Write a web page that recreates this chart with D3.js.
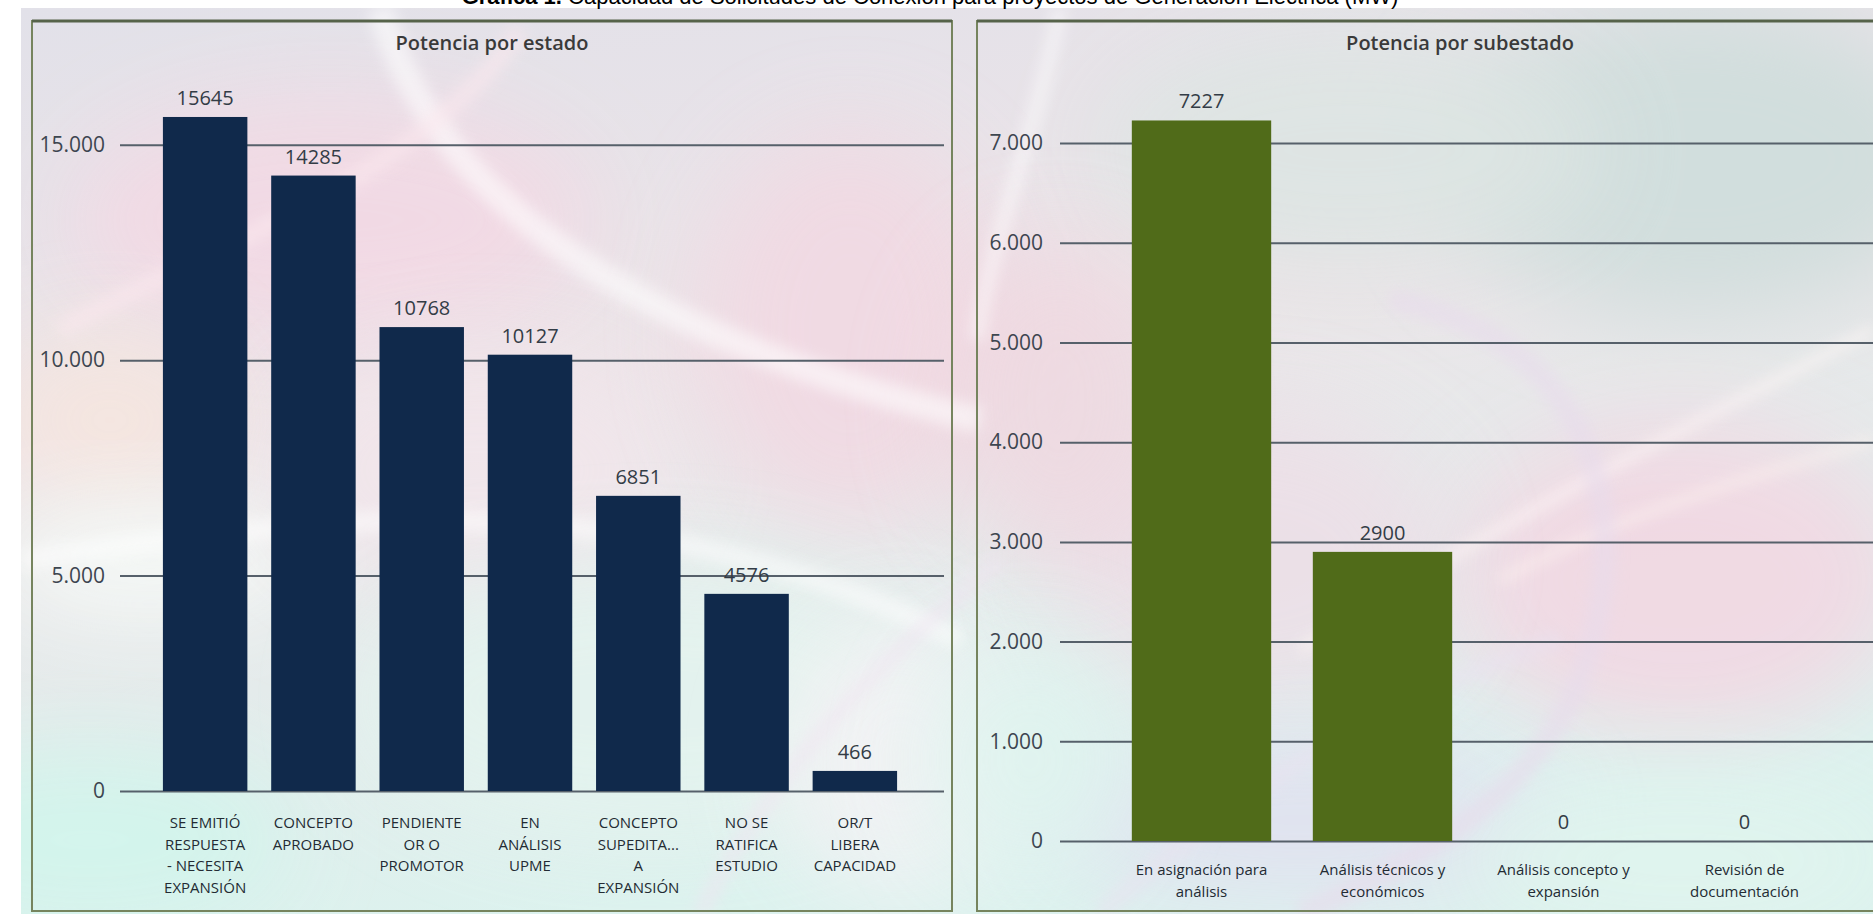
<!DOCTYPE html>
<html>
<head>
<meta charset="utf-8">
<script src="https://cdn.jsdelivr.net/npm/d3@7/dist/d3.min.js"></script>
<style>
  body { margin: 0; background: #fff; }
  svg { display: block; }
</style>
</head>
<body>
<svg id="chart" width="1873" height="914"></svg>
<script>
// data
var estados = [
  'SE EMITIÓ\nRESPUESTA\n- NECESITA\nEXPANSIÓN',
  'CONCEPTO\nAPROBADO',
  'PENDIENTE\nOR O\nPROMOTOR',
  'EN\nANÁLISIS\nUPME',
  'CONCEPTO\nSUPEDITA...\nA\nEXPANSIÓN',
  'NO SE\nRATIFICA\nESTUDIO',
  'OR/T\nLIBERA\nCAPACIDAD'
]
var estadoValues = [15645, 14285, 10768, 10127, 6851, 4576, 466]
var estadoTicks = [0, 5000, 10000, 15000]

var subestados = [
  'En asignación para\nanálisis',
  'Análisis técnicos y\neconómicos',
  'Análisis concepto y\nexpansión',
  'Revisión de\ndocumentación'
]
var subestadoValues = [7227, 2900, 0, 0]
var subestadoTicks = [0, 1000, 2000, 3000, 4000, 5000, 6000, 7000]

var titulo = 'Capacidad de Solicitudes de Conexión para proyectos de Generación Eléctrica (MW)'

var locale = d3.formatLocale({decimal: ',', thousands: '.', grouping: [3], currency: ['$', '']})
var fmt = locale.format(',d')

var svg = d3.select('#chart')

drawBackground()
drawTitle()

drawPanel({
  box: [32, 21, 952, 911],
  title: 'Potencia por estado',
  categories: estados,
  values: estadoValues,
  ticks: estadoTicks,
  color: '#10294b',
  x: [151, 909],
  pad: 0.22,
  y: [0, 17000, 791, 58.6],
  grid: [120, 944],
  labelPad: 15,
  labelY: 828,
  lineH: 21.5
})

drawPanel({
  box: [977, 21, 1900, 911],
  title: 'Potencia por subestado',
  categories: subestados,
  values: subestadoValues,
  ticks: subestadoTicks,
  color: '#506b19',
  x: [1111, 1835],
  pad: 0.23,
  y: [0, 7500, 841, 93.25],
  grid: [1060, 1873],
  labelPad: 17,
  labelY: 875,
  lineH: 21.5
})

function drawBackground () {
  var defs = svg.append('defs')
  var base = defs.append('linearGradient')
      .attr('id', 'bg-base')
      .attr('x1', 0).attr('y1', 0).attr('x2', 0.3).attr('y2', 1)
  base.append('stop').attr('offset', '0%').attr('stop-color', '#e2e1e9')
  base.append('stop').attr('offset', '45%').attr('stop-color', '#ece4e8')
  base.append('stop').attr('offset', '100%').attr('stop-color', '#dcf2ee')

  defs.append('clipPath').attr('id', 'bg-clip')
    .append('rect')
      .attr('x', 21).attr('y', 8)
      .attr('width', 1873 - 21).attr('height', 914 - 8)

  defs.append('filter').attr('id', 'blur-big')
      .attr('x', '-50%').attr('y', '-50%').attr('width', '200%').attr('height', '200%')
    .append('feGaussianBlur').attr('stdDeviation', 45)
  defs.append('filter').attr('id', 'blur-small')
      .attr('x', '-20%').attr('y', '-20%').attr('width', '140%').attr('height', '140%')
    .append('feGaussianBlur').attr('stdDeviation', 7)

  var g = svg.append('g').attr('clip-path', 'url(#bg-clip)')
  g.append('rect')
      .attr('x', 21).attr('y', 8)
      .attr('width', 1873 - 21).attr('height', 914 - 8)
      .attr('fill', 'url(#bg-base)')

  // soft colour blobs
  var blobs = [
    [330, 220, 260, 120, '#f3d9e4', 0.9],
    [110, 420, 120, 90, '#f7e6de', 0.8],
    [150, 560, 160, 60, '#f6fbf8', 0.9],
    [90, 840, 200, 90, '#d2f5ec', 0.9],
    [480, 470, 200, 120, '#f4e6ec', 0.7],
    [850, 330, 150, 200, '#f2d8e2', 0.8],
    [650, 700, 300, 140, '#e4f4ef', 0.8],
    [900, 760, 120, 140, '#f5f2f5', 0.8],
    [1700, 160, 260, 160, '#d1dedd', 1],
    [1350, 150, 250, 120, '#dde5e3', 0.9],
    [1680, 580, 230, 160, '#f2d8e3', 0.9],
    [1250, 560, 200, 150, '#efdce6', 0.7],
    [1300, 820, 260, 80, '#e2dff0', 0.8],
    [1680, 860, 220, 80, '#e0f4ee', 0.9],
    [1060, 400, 120, 160, '#f0d6df', 0.7],
    [1030, 760, 110, 120, '#dff4ef', 0.8]
  ]
  g.selectAll('.blob')
      .data(blobs)
    .enter().append('ellipse')
      .attr('class', 'blob')
      .attr('cx', d => d[0]).attr('cy', d => d[1])
      .attr('rx', d => d[2]).attr('ry', d => d[3])
      .attr('fill', d => d[4])
      .attr('opacity', d => d[5])
      .attr('filter', 'url(#blur-big)')

  // light ribbons sweeping across
  var ribbons = [
    ['M 380 8 C 420 150 560 320 980 420', '#ffffff', 26, 0.55],
    ['M 60 330 C 200 250 420 180 520 30', '#fbe8ee', 18, 0.6],
    ['M 21 560 C 300 520 620 470 960 640', '#ffffff', 20, 0.5],
    ['M 700 914 C 780 760 880 660 1000 560', '#f0e4f1', 16, 0.5],
    ['M 1060 8 C 1040 120 990 240 977 340', '#ffffff', 14, 0.5],
    ['M 1300 650 C 1500 520 1700 420 1873 330', '#fff8f6', 10, 0.6],
    ['M 1500 580 C 1650 500 1780 470 1873 440', '#fff6f0', 8, 0.6],
    ['M 1390 300 C 1560 330 1640 470 1590 650 C 1550 790 1420 860 1300 914', '#e8dcec', 22, 0.6],
    ['M 1100 914 C 1250 780 1400 690 1560 640', '#e9e2f0', 18, 0.5]
  ]
  g.selectAll('.ribbon')
      .data(ribbons)
    .enter().append('path')
      .attr('class', 'ribbon')
      .attr('d', d => d[0])
      .attr('fill', 'none')
      .attr('stroke', d => d[1])
      .attr('stroke-width', d => d[2])
      .attr('opacity', d => d[3])
      .attr('filter', 'url(#blur-small)')
}

function drawTitle () {
  var t = svg.append('text')
      .attr('x', 930)
      .attr('y', 4)
      .attr('text-anchor', 'middle')
      .attr('font-family', "'Liberation Sans', Arial, sans-serif")
      .attr('font-size', 22)
      .attr('fill', '#000')
  t.append('tspan').attr('font-weight', 'bold').text('Gráfica 1. ')
  t.append('tspan').text(titulo)
}

function drawPanel (o) {
  var b = o.box
  var g = svg.append('g')

  // panel frame
  g.append('rect')
      .attr('x', b[0]).attr('y', b[1])
      .attr('width', b[2] - b[0]).attr('height', b[3] - b[1])
      .attr('fill', 'none')
      .attr('stroke', '#76845e')
      .attr('stroke-width', 2)
  g.append('line')
      .attr('x1', b[0]).attr('x2', b[2])
      .attr('y1', b[1]).attr('y2', b[1])
      .attr('stroke', '#56634a')
      .attr('stroke-width', 3)

  g.append('text')
      .attr('x', (b[0] + Math.min(b[2], 1873)) / 2 + (b[2] > 1873 ? 35 : 0))
      .attr('y', 50)
      .attr('text-anchor', 'middle')
      .attr('font-family', "'Open Sans', sans-serif")
      .attr('font-weight', 600)
      .attr('font-size', 20)
      .attr('fill', '#3a3a3a')
      .text(o.title)

  var x = d3.scaleBand()
      .domain(o.categories)
      .range(o.x)
      .paddingInner(o.pad)
      .paddingOuter(o.pad / 2)

  var y = d3.scaleLinear()
      .domain([o.y[0], o.y[1]])
      .range([o.y[2], o.y[3]])

  // y axis with gridlines
  var yAxis = g.append('g')
      .attr('transform', 'translate(' + o.grid[0] + ',0)')
      .call(d3.axisLeft(y)
        .tickValues(o.ticks)
        .tickFormat(fmt)
        .tickSize(-(o.grid[1] - o.grid[0]))
        .tickPadding(o.labelPad))
  yAxis.select('.domain').remove()
  yAxis.selectAll('.tick line')
      .attr('stroke', '#56606a')
      .attr('stroke-width', 2)
  yAxis.selectAll('.tick text')
      .attr('font-family', "'Open Sans', sans-serif")
      .attr('font-size', 21)
      .attr('fill', '#3d4650')

  // bars
  g.selectAll('.bar')
      .data(o.values)
    .enter().append('rect')
      .attr('class', 'bar')
      .attr('fill', o.color)
      .attr('x', (d, i) => x(o.categories[i]))
      .attr('width', x.bandwidth())
      .attr('y', d => y(d))
      .attr('height', d => y(0) - y(d))

  // value labels
  g.selectAll('.bar-label')
      .data(o.values)
    .enter().append('text')
      .attr('class', 'bar-label')
      .attr('x', (d, i) => x(o.categories[i]) + x.bandwidth() / 2)
      .attr('y', d => y(d) - 12)
      .attr('text-anchor', 'middle')
      .attr('font-family', "'Open Sans', sans-serif")
      .attr('font-size', 20)
      .attr('fill', '#333c46')
      .text(d => d)

  // x axis, multi-line category labels
  var xAxis = g.append('g')
      .call(d3.axisBottom(x).tickSize(0).tickFormat(''))
  xAxis.select('.domain').remove()
  xAxis.selectAll('.tick text').remove()
  xAxis.selectAll('.tick').each(function (d) {
    var t = d3.select(this).append('text')
        .attr('text-anchor', 'middle')
        .attr('font-family', "'Open Sans', sans-serif")
        .attr('font-size', 15)
        .attr('fill', '#232b33')
    d.split('\n').forEach(function (line, i) {
      t.append('tspan')
          .attr('x', 0)
          .attr('y', o.labelY + i * o.lineH)
          .text(line)
    })
  })
}
</script>
</body>
</html>
